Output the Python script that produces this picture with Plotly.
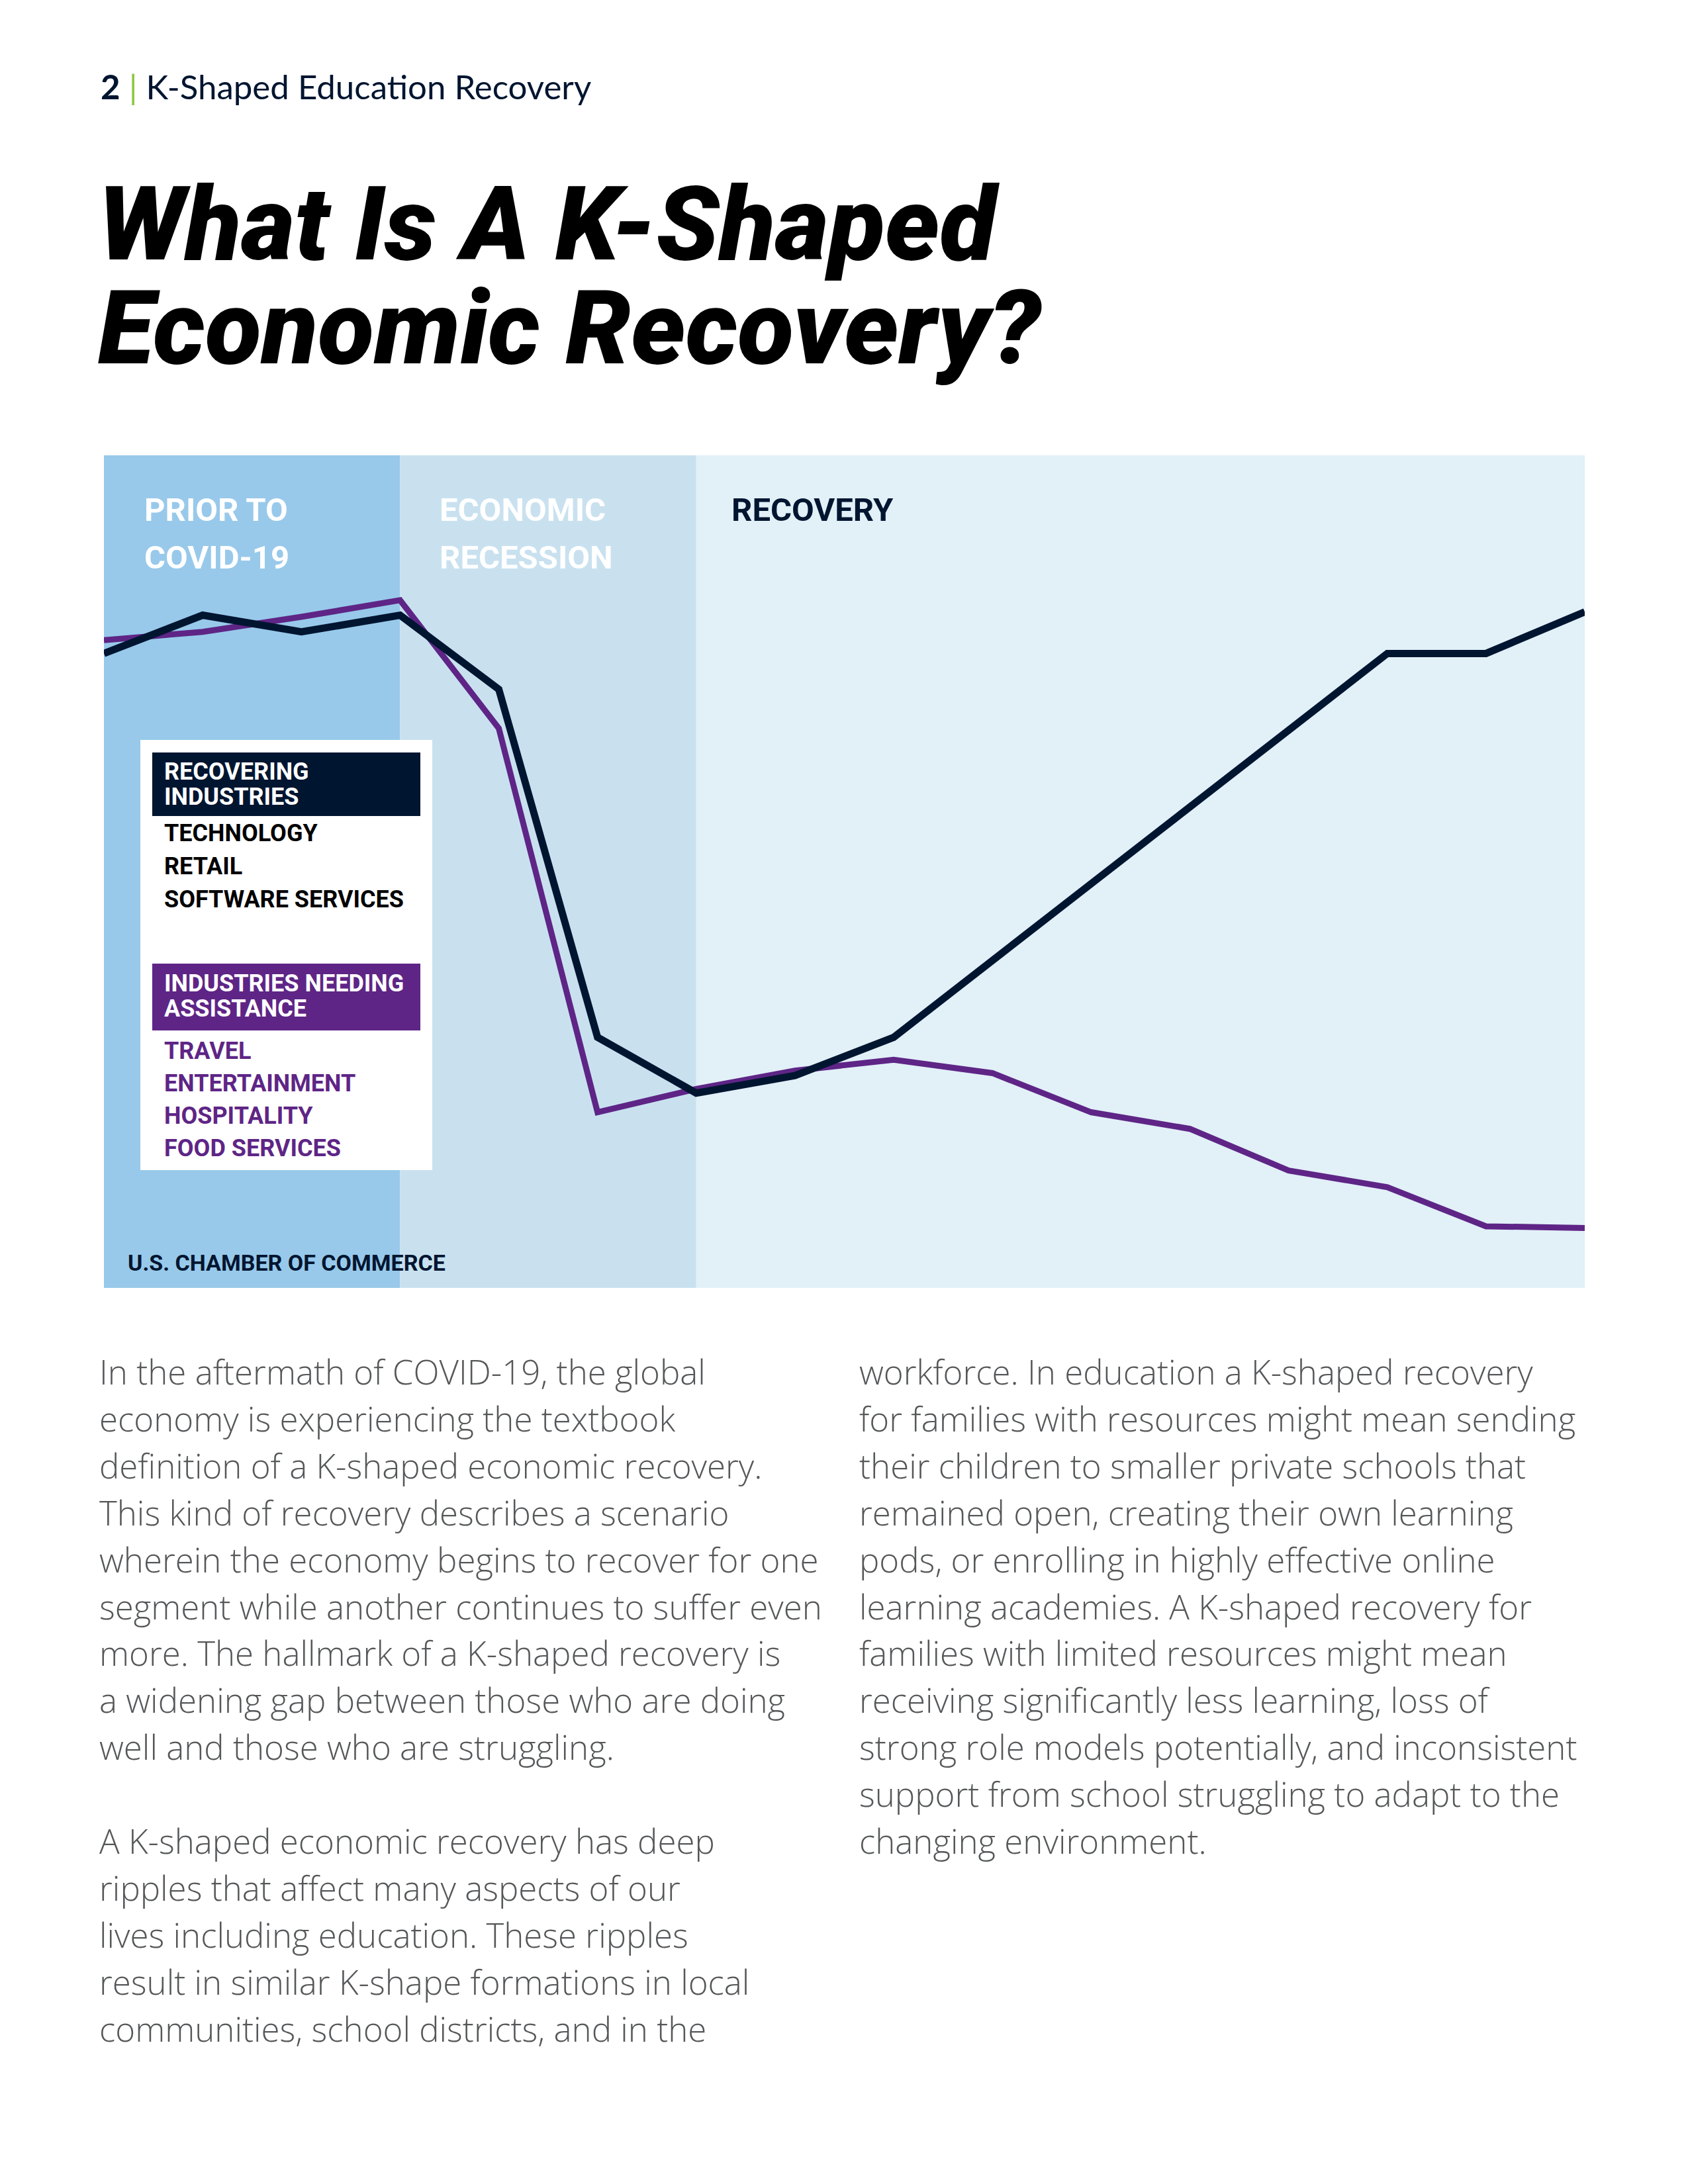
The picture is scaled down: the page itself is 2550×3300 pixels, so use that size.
import plotly.graph_objects as go

W, H = 2550, 3300

# ---------------- data ----------------
periods = list(range(16))
recovering = [76.2, 80.8, 78.8, 80.8, 71.9, 30.1, 23.4, 25.5, 30.1, 39.3, 48.6, 57.8, 67.0, 76.2, 76.2, 81.2]
needing = [77.8, 78.8, 80.6, 82.6, 67.2, 21.1, 23.9, 26.1, 27.4, 25.8, 21.1, 19.1, 14.1, 12.1, 7.4, 7.2]

phase_bounds = [0, 3, 6, 15]
phase_labels = ["PRIOR TO<br>COVID-19", "ECONOMIC<br>RECESSION", "RECOVERY"]
phase_fill = ["#98c9ea", "#c9e1ef", "#e2f0f8"]
phase_text = ["#ffffff", "#ffffff", "#001530"]

recovering_title = ["RECOVERING", "INDUSTRIES"]
recovering_items = ["TECHNOLOGY", "RETAIL", "SOFTWARE SERVICES"]
needing_title = ["INDUSTRIES NEEDING", "ASSISTANCE"]
needing_items = ["TRAVEL", "ENTERTAINMENT", "HOSPITALITY", "FOOD SERVICES"]
source = "U.S. CHAMBER OF COMMERCE"

page_header = "K-Shaped Education Recovery"
page_number = "2"
title_lines = ["What Is A K-Shaped", "Economic Recovery?"]

left_col = [
    "In the aftermath of COVID-19, the global",
    "economy is experiencing the textbook",
    "definition of a K-shaped economic recovery.",
    "This kind of recovery describes a scenario",
    "wherein the economy begins to recover for one",
    "segment while another continues to suffer even",
    "more. The hallmark of a K-shaped recovery is",
    "a widening gap between those who are doing",
    "well and those who are struggling.",
    "",
    "A K-shaped economic recovery has deep",
    "ripples that affect many aspects of our",
    "lives including education. These ripples",
    "result in similar K-shape formations in local",
    "communities, school districts, and in the",
]
right_col = [
    "workforce. In education a K-shaped recovery",
    "for families with resources might mean sending",
    "their children to smaller private schools that",
    "remained open, creating their own learning",
    "pods, or enrolling in highly effective online",
    "learning academies. A K-shaped recovery for",
    "families with limited resources might mean",
    "receiving significantly less learning, loss of",
    "strong role models potentially, and inconsistent",
    "support from school struggling to adapt to the",
    "changing environment.",
]

NAVY = "#001530"
PURPLE = "#5e2586"
GRAY = "#555759"


def px(x):
    return x / W


def py(y):
    return 1 - y / H


fig = go.Figure()

fig.add_trace(go.Scatter(x=periods, y=needing, mode="lines",
                         line=dict(color=PURPLE, width=9), hoverinfo="skip",
                         showlegend=False))
fig.add_trace(go.Scatter(x=periods, y=recovering, mode="lines",
                         line=dict(color=NAVY, width=11), hoverinfo="skip",
                         showlegend=False))

shapes = []
for i in range(3):
    shapes.append(dict(type="rect", xref="x", yref="paper",
                       x0=phase_bounds[i], x1=phase_bounds[i + 1],
                       y0=py(1946), y1=py(688), fillcolor=phase_fill[i],
                       line=dict(width=0), layer="below"))

# legend box
shapes.append(dict(type="rect", xref="paper", yref="paper", x0=px(212), x1=px(653),
                   y0=py(1768), y1=py(1118), fillcolor="white", line=dict(width=0), layer="above"))
shapes.append(dict(type="rect", xref="paper", yref="paper", x0=px(230), x1=px(635),
                   y0=py(1233), y1=py(1137), fillcolor=NAVY, line=dict(width=0), layer="above"))
shapes.append(dict(type="rect", xref="paper", yref="paper", x0=px(230), x1=px(635),
                   y0=py(1557), y1=py(1456), fillcolor=PURPLE, line=dict(width=0), layer="above"))

ann = []


def text(x, y, s, size, color, family="Roboto", weight=700, style="normal", anchor="left"):
    ann.append(dict(xref="paper", yref="paper", x=px(x), y=py(y), text=s,
                    showarrow=False, xanchor=anchor, yanchor="middle", align="left",
                    font=dict(family=family, size=size, color=color, weight=weight, style=style)))


# phase labels
phase_x = [216, 662, 1103]
for lab, c, xx in zip(phase_labels, phase_text, phase_x):
    for j, part in enumerate(lab.split("<br>")):
        text(xx, 770 + j * 73, part, 49, c)

# legend texts
for j, s in enumerate(recovering_title):
    text(246, 1166 + j * 38, s, 36, "white")
for j, s in enumerate(recovering_items):
    text(246, 1259 + j * 50, s, 36, "black")
for j, s in enumerate(needing_title):
    text(246, 1486 + j * 38, s, 36, "white")
for j, s in enumerate(needing_items):
    text(246, 1588 + j * 49, s, 36, PURPLE)

text(191, 1908, source, 34, NAVY)

# header
ann.append(dict(xref="paper", yref="paper", x=px(150), y=py(130),
                text=f"<b>{page_number}</b> <span style='color:#8dc63f'>|</span> {page_header}",
                showarrow=False, xanchor="left", yanchor="middle",
                font=dict(family="Lato", size=51, color=NAVY)))

# title
for j, s in enumerate(title_lines):
    text(146, 338 + j * 158, s, 156, "black", weight=900, style="italic")

# body
for j, s in enumerate(left_col):
    if s:
        text(148, 2072 + j * 70.9, s, 51, GRAY, family="Open Sans", weight=300)
for j, s in enumerate(right_col):
    text(1296, 2072 + j * 70.9, s, 51, GRAY, family="Open Sans", weight=300)

fig.update_layout(
    width=W, height=H,
    margin=dict(l=0, r=0, t=0, b=0),
    paper_bgcolor="white", plot_bgcolor="white",
    shapes=shapes, annotations=ann,
    xaxis=dict(domain=[px(157), px(2394)], range=[0, 15], visible=False, fixedrange=True),
    yaxis=dict(domain=[py(1946), py(688)], range=[0, 100], visible=False, fixedrange=True),
)

fig.write_html("out.html", config={"displayModeBar": False, "staticPlot": True},
               post_script="document.body.style.margin='0';")
